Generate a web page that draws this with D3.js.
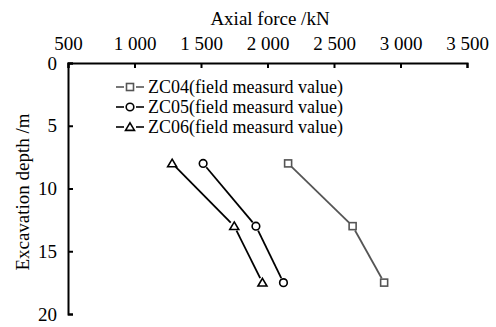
<!DOCTYPE html>
<html>
<head>
<meta charset="utf-8">
<script src="https://cdn.jsdelivr.net/npm/d3@7"></script>
<style>
  body { margin: 0; background: #fff; }
  svg { display: block; }
  text { font-family: "Liberation Serif", "Times New Roman", serif; fill: #000; }
</style>
</head>
<body>
<svg id="chart" width="496" height="327"></svg>
<script>
// Axial force (kN) measured at three excavation depths (m)
const depths = [8, 13, 17.5];
const zc04 = [2155, 2640, 2877];
const zc05 = [1516, 1913, 2120];
const zc06 = [1283, 1750, 1962];
const xTicks = [500, 1000, 1500, 2000, 2500, 3000, 3500];
const yTicks = [0, 5, 10, 15, 20];
const seriesNames = ["ZC04(field measurd value)", "ZC05(field measurd value)", "ZC06(field measurd value)"];

const svg = d3.select("#chart");
const margin = { left: 68, right: 29, top: 63, bottom: 13 };
const W = 496, H = 327;
const FS = 19;

const x = d3.scaleLinear().domain([500, 3500]).range([margin.left, W - margin.right]);
const y = d3.scaleLinear().domain([0, 20]).range([margin.top, H - margin.bottom]);

// thousands separated by a space: 1 000, 2 500 ...
const fmt = v => {
  const s = String(v);
  return s.length > 3 ? s.slice(0, s.length - 3) + " " + s.slice(-3) : s;
};

function styleAxis(g) {
  g.attr("font-family", null).attr("font-size", null);
  g.select(".domain").attr("stroke", "#000").attr("stroke-width", 2);
  g.selectAll(".tick line").attr("stroke", "#000").attr("stroke-width", 2);
  g.selectAll(".tick text").attr("font-size", FS).attr("fill", "#000");
}

// top x axis
svg.append("g").attr("transform", `translate(0,${margin.top})`)
  .call(d3.axisTop(x).tickValues(xTicks).tickFormat(fmt)
    .tickSizeInner(-5).tickSizeOuter(-5).tickPadding(13))
  .call(styleAxis);

// left y axis
svg.append("g").attr("transform", `translate(${margin.left},0)`)
  .call(d3.axisLeft(y).tickValues(yTicks).tickSizeInner(-5).tickSizeOuter(-5).tickPadding(11))
  .call(styleAxis);

// axis titles
svg.append("text").attr("x", 270).attr("y", 25).attr("text-anchor", "middle")
  .attr("font-size", FS).text("Axial force /kN");
svg.append("text").attr("transform", `translate(29,192) rotate(-90)`)
  .attr("text-anchor", "middle").attr("font-size", FS).text("Excavation depth /m");

const series = [
  { vals: zc04, color: "#555", shape: "square" },
  { vals: zc05, color: "#000", shape: "circle" },
  { vals: zc06, color: "#000", shape: "triangle" }
];

function drawMarker(g, shape, color, cx, cy) {
  if (shape === "square") {
    g.append("rect").attr("x", cx - 3.5).attr("y", cy - 3.5).attr("width", 7).attr("height", 7)
      .attr("fill", "#fff").attr("stroke", color).attr("stroke-width", 1.6);
  } else if (shape === "circle") {
    g.append("circle").attr("cx", cx).attr("cy", cy).attr("r", 3.8)
      .attr("fill", "#fff").attr("stroke", color).attr("stroke-width", 1.6);
  } else {
    g.append("path").attr("d", `M${cx},${cy - 4.2}L${cx + 4.5},${cy + 3.4}L${cx - 4.5},${cy + 3.4}Z`)
      .attr("fill", "#fff").attr("stroke", color).attr("stroke-width", 1.6);
  }
}

const trim = 5;
series.forEach(s => {
  const pts = s.vals.map((v, i) => [x(v), y(depths[i])]);
  const g = svg.append("g");
  // segments stop short of the markers
  for (let i = 0; i < pts.length - 1; i++) {
    const [x1, y1] = pts[i], [x2, y2] = pts[i + 1];
    const L = Math.hypot(x2 - x1, y2 - y1), ux = (x2 - x1) / L, uy = (y2 - y1) / L;
    g.append("line").attr("x1", x1 + ux * trim).attr("y1", y1 + uy * trim)
      .attr("x2", x2 - ux * trim).attr("y2", y2 - uy * trim)
      .attr("stroke", s.color).attr("stroke-width", 1.8);
  }
  pts.forEach(p => drawMarker(g, s.shape, s.color, p[0], p[1]));
});

// legend
const legend = svg.append("g");
series.forEach((s, i) => {
  const ly = 87 + i * 20;
  legend.append("line").attr("x1", 116).attr("x2", 124).attr("y1", ly).attr("y2", ly)
    .attr("stroke", s.color).attr("stroke-width", 1.6);
  legend.append("line").attr("x1", 136).attr("x2", 144).attr("y1", ly).attr("y2", ly)
    .attr("stroke", s.color).attr("stroke-width", 1.6);
  drawMarker(legend, s.shape, s.color, 130, ly);
  legend.append("text").attr("x", 148).attr("y", ly + 6).attr("font-size", 18)
    .text(seriesNames[i]);
});
</script>
</body>
</html>
